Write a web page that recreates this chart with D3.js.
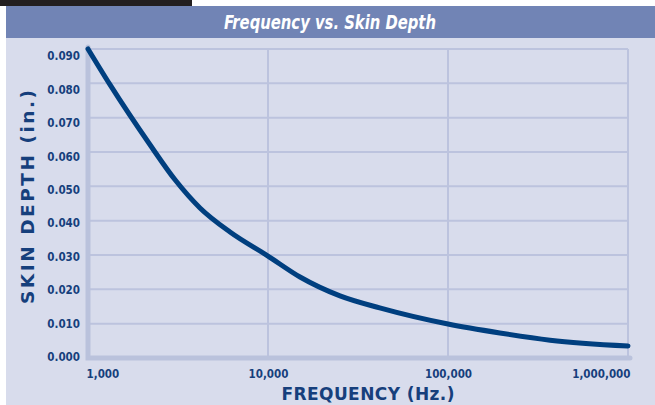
<!DOCTYPE html>
<html lang="en">
<head>
    <meta charset="UTF-8">
    <title>Frequency vs. Skin Depth</title>
    <script src="https://cdn.jsdelivr.net/npm/d3@7"></script>
    <style>
        body { margin: 0; background: #ffffff; }
        .axis text {
            font-family: "DejaVu Sans Condensed", "DejaVu Sans", sans-serif;
            font-weight: bold;
            font-size: 11.5px;
            fill: #163f7c;
        }
    </style>
</head>
<body>
<script>
    var w = 655;
    var h = 405;

    // readings from the curve
    var frequency = [1000, 1325, 2211, 3045, 4189, 6152, 10000, 15060, 25119, 41750, 100000, 194000, 369000, 1000000];
    var depth = [0.090, 0.0796, 0.0621, 0.0519, 0.0437, 0.0367, 0.0297, 0.0236, 0.0181, 0.0146, 0.0099, 0.0073, 0.0052, 0.0035];

    var xTicks = [1000, 10000, 100000, 1000000];
    var xTickLabels = ["1,000", "10,000", "100,000", "1,000,000"];
    var yTicks = [0, 0.01, 0.02, 0.03, 0.04, 0.05, 0.06, 0.07, 0.08, 0.09];

    var plotLeft = 88, plotRight = 628, plotTop = 49, plotBottom = 358;

    var xScale = d3.scaleLog()
        .domain([1000, 1000000])
        .range([plotLeft, plotRight]);

    var yScale = d3.scaleLinear()
        .domain([0, 0.09])
        .range([plotBottom, plotTop]);

    // the printed labels sit on a slightly tighter spacing than the grid
    var yLabelScale = d3.scaleLinear()
        .domain([0, 0.09])
        .range([357, 56]);

    var svg = d3.select("body")
        .append("svg")
        .attr("width", w)
        .attr("height", h);

    // background pieces
    svg.append("rect").attr("x", 0).attr("y", 0).attr("width", 192).attr("height", 6).attr("fill", "#231f20");
    svg.append("rect").attr("x", 6).attr("y", 38).attr("width", w - 6).attr("height", h - 38).attr("fill", "#d8dcec");
    svg.append("rect").attr("x", 6).attr("y", 6).attr("width", w - 6).attr("height", 32).attr("fill", "#7184b5");

    svg.append("text")
        .attr("x", 330)
        .attr("y", 29)
        .attr("text-anchor", "middle")
        .attr("textLength", 212)
        .attr("lengthAdjust", "spacingAndGlyphs")
        .attr("font-family", "'Liberation Sans Narrow', 'DejaVu Sans Condensed', sans-serif")
        .attr("font-weight", "bold")
        .attr("font-style", "italic")
        .attr("font-size", "19px")
        .attr("fill", "#ffffff")
        .text("Frequency vs. Skin Depth");

    // grid
    svg.append("g")
        .selectAll("line")
        .data(yTicks.slice(1))
        .enter()
        .append("line")
        .attr("x1", plotLeft)
        .attr("x2", plotRight)
        .attr("y1", function (d) { return yScale(d); })
        .attr("y2", function (d) { return yScale(d); })
        .attr("stroke", "#bcc3de")
        .attr("stroke-width", 2);

    svg.append("g")
        .selectAll("line")
        .data(xTicks.slice(1))
        .enter()
        .append("line")
        .attr("x1", function (d) { return xScale(d); })
        .attr("x2", function (d) { return xScale(d); })
        .attr("y1", plotTop)
        .attr("y2", plotBottom)
        .attr("stroke", "#bcc3de")
        .attr("stroke-width", 2);

    // thick left and bottom axis lines
    svg.append("path")
        .attr("d", "M" + plotLeft + "," + (plotTop - 2) + "V" + plotBottom + "H" + (plotRight + 2))
        .attr("fill", "none")
        .attr("stroke", "#bac2dc")
        .attr("stroke-width", 5)
        .attr("stroke-linecap", "round");

    var xAxis = d3.axisBottom(xScale)
        .tickValues(xTicks)
        .tickSize(0)
        .tickPadding(0)
        .tickFormat(function (d, i) { return xTickLabels[i]; });

    var gx = svg.append("g")
        .attr("class", "axis")
        .attr("transform", "translate(0," + 378 + ")")
        .call(xAxis);
    gx.select(".domain").remove();
    gx.selectAll("text")
        .attr("dy", 0)
        .attr("text-anchor", function (d, i) {
            return i === 0 ? "start" : (i === xTicks.length - 1 ? "end" : "middle");
        })
        .attr("dx", function (d, i) { return i === 0 ? -2 : (i === xTicks.length - 1 ? 2 : 0); });

    var yAxis = d3.axisLeft(yLabelScale)
        .tickValues(yTicks)
        .tickSize(0)
        .tickPadding(8)
        .tickFormat(d3.format(".3f"));

    var gy = svg.append("g")
        .attr("class", "axis")
        .attr("transform", "translate(" + plotLeft + ",0)")
        .call(yAxis);
    gy.select(".domain").remove();

    // curve
    var line = d3.line()
        .x(function (d, i) { return xScale(frequency[i]); })
        .y(function (d) { return yScale(d); })
        .curve(d3.curveMonotoneX);

    svg.append("path")
        .datum(depth)
        .attr("d", line)
        .attr("fill", "none")
        .attr("stroke", "#003f7f")
        .attr("stroke-width", 5)
        .attr("stroke-linecap", "round");

    // axis titles
    svg.append("text")
        .attr("x", 368)
        .attr("y", 400)
        .attr("text-anchor", "middle")
        .attr("textLength", 173)
        .attr("lengthAdjust", "spacing")
        .attr("font-family", "'DejaVu Sans', sans-serif")
        .attr("font-weight", "bold")
        .attr("font-size", "17px")
        .attr("fill", "#163f7c")
        .text("FREQUENCY (Hz.)");

    svg.append("text")
        .attr("transform", "translate(34,197) rotate(-90)")
        .attr("text-anchor", "middle")
        .attr("textLength", 214)
        .attr("lengthAdjust", "spacing")
        .attr("font-family", "'DejaVu Sans', sans-serif")
        .attr("font-weight", "bold")
        .attr("font-size", "18.5px")
        .attr("fill", "#163f7c")
        .text("SKIN DEPTH (in.)");
</script>
</body>
</html>
